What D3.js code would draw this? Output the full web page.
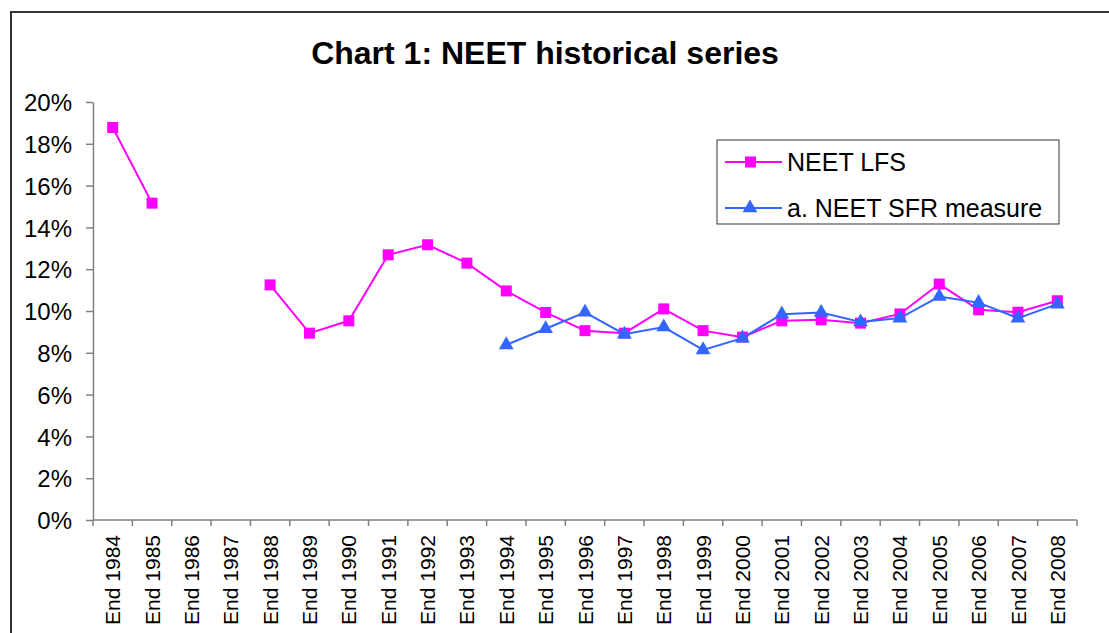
<!DOCTYPE html>
<html>
<head>
<meta charset="utf-8">
<script src="https://cdn.jsdelivr.net/npm/d3@7"></script>
<style>
  body { margin: 0; background: #fff; }
  svg { display: block; font-family: "Liberation Sans", Arial, sans-serif; }
</style>
</head>
<body>
<div id="chart"></div>
<script>
// data
const years = ['1984', '1985', '1986', '1987', '1988', '1989', '1990', '1991', '1992', '1993',
  '1994', '1995', '1996', '1997', '1998', '1999', '2000', '2001', '2002', '2003',
  '2004', '2005', '2006', '2007', '2008']
const categories = years.map(y => `End ${y}`)
const neetLfs = [0.1878, 0.1516, null, null, 0.1125, 0.0894, 0.0953, 0.1269, 0.1317, 0.1229,
  0.1096, 0.0993, 0.0906, 0.0894, 0.1010, 0.0906, 0.0875, 0.0953, 0.0958, 0.0942,
  0.0986, 0.1129, 0.1006, 0.0994, 0.1049]
const neetSfr = [null, null, null, null, null, null, null, null, null, null,
  0.0838, 0.0915, 0.0994, 0.0889, 0.0923, 0.0814, 0.0870, 0.0985, 0.0993, 0.0947,
  0.0966, 0.1069, 0.1040, 0.0966, 0.1033]
const yTicks = [0, 0.02, 0.04, 0.06, 0.08, 0.1, 0.12, 0.14, 0.16, 0.18, 0.2]
const seriesNames = ['NEET LFS', 'a. NEET SFR measure']

const width = 1109
const height = 633
const plotLeft = 93
const plotRight = 1077
const plotTop = 102
const plotBottom = 520

// colors
const pink = '#FF00FF'
const blue = '#3366FF'
const axisColor = '#808080'

const $svg = d3.select('#chart').append('svg')
  .attr('width', width)
  .attr('height', height)

// outer frame runs off the page on right and bottom
$svg.append('rect')
  .attr('x', 11)
  .attr('y', 12)
  .attr('width', width + 20)
  .attr('height', height + 20)
  .attr('fill', 'none')
  .attr('stroke', '#333')
  .attr('stroke-width', 2)

$svg.append('text')
  .attr('x', 545)
  .attr('y', 64)
  .attr('text-anchor', 'middle')
  .style('font-size', '32px')
  .style('font-weight', 'bold')
  .text('Chart 1: NEET historical series')

// scales
const scaleX = d3.scaleBand()
  .domain(categories)
  .range([plotLeft, plotRight])
const scaleY = d3.scaleLinear()
  .domain([0, 0.2])
  .range([plotBottom, plotTop])

// y axis
const $yAxis = $svg.append('g')
  .attr('transform', `translate(${plotLeft}, 0)`)
  .call(d3.axisLeft(scaleY)
    .tickValues(yTicks)
    .tickSize(7)
    .tickSizeOuter(0)
    .tickPadding(14)
    .tickFormat(d3.format('.0%')))
$yAxis.select('.domain').attr('stroke', axisColor).attr('stroke-width', 1.5)
$yAxis.selectAll('.tick line').attr('stroke', axisColor).attr('stroke-width', 1.5)
$yAxis.selectAll('.tick text')
  .attr('fill', '#000')
  .style('font-size', '24px')
  .attr('dy', '0.36em')
  .attr('font-family', '"Liberation Sans", Arial, sans-serif')

// x axis: labels at band centres, ticks at band edges
const $xAxis = $svg.append('g')
  .attr('transform', `translate(0, ${plotBottom})`)
  .call(d3.axisBottom(scaleX).tickSize(0).tickPadding(0))
$xAxis.select('.domain').remove()
$xAxis.append('line')
  .attr('x1', plotLeft)
  .attr('x2', plotRight)
  .attr('stroke', axisColor)
  .attr('stroke-width', 1.5)
$xAxis.selectAll('.edge')
  .data(categories.map(c => scaleX(c)).concat([plotRight]))
  .enter()
  .append('line')
  .attr('class', 'edge')
  .attr('x1', d => d)
  .attr('x2', d => d)
  .attr('y1', 0)
  .attr('y2', 6)
  .attr('stroke', axisColor)
  .attr('stroke-width', 1.5)
$xAxis.selectAll('.tick text')
  .attr('fill', '#000')
  .attr('font-family', '"Liberation Sans", Arial, sans-serif')
  .style('font-size', '21px')
  .attr('text-anchor', 'end')
  .attr('transform', 'rotate(-90)')
  .attr('x', -15)
  .attr('y', 0)
  .attr('dy', '0.36em')

const cx = d => scaleX(d.cat) + scaleX.bandwidth() / 2

function seriesData(values) {
  return values.map((v, i) => ({ cat: categories[i], value: v }))
}

const line = d3.line()
  .defined(d => d.value != null)
  .x(cx)
  .y(d => scaleY(d.value))

const triangle = d3.symbol().type(d3.symbolTriangle).size(95)

const lfs = seriesData(neetLfs)
const sfr = seriesData(neetSfr)

// LFS line + squares
$svg.append('path')
  .datum(lfs)
  .attr('d', line)
  .attr('fill', 'none')
  .attr('stroke', pink)
  .attr('stroke-width', 2)
$svg.selectAll('.sq')
  .data(lfs.filter(d => d.value != null))
  .enter()
  .append('rect')
  .attr('class', 'sq')
  .attr('x', d => cx(d) - 5.5)
  .attr('y', d => scaleY(d.value) - 5.5)
  .attr('width', 11)
  .attr('height', 11)
  .attr('fill', pink)

// SFR line + triangles
$svg.append('path')
  .datum(sfr)
  .attr('d', line)
  .attr('fill', 'none')
  .attr('stroke', blue)
  .attr('stroke-width', 2)
$svg.selectAll('.tri')
  .data(sfr.filter(d => d.value != null))
  .enter()
  .append('path')
  .attr('class', 'tri')
  .attr('d', triangle)
  .attr('transform', d => `translate(${cx(d)}, ${scaleY(d.value)})`)
  .attr('fill', blue)

// legend
const $legend = $svg.append('g')
  .attr('transform', 'translate(717, 140)')
$legend.append('rect')
  .attr('width', 342)
  .attr('height', 84)
  .attr('fill', '#fff')
  .attr('stroke', '#333')
  .attr('stroke-width', 1)

const legendRows = $legend.selectAll('.row')
  .data(seriesNames)
  .enter()
  .append('g')
  .attr('class', 'row')
  .attr('transform', (d, i) => `translate(0, ${i === 0 ? 22 : 68})`)

legendRows.append('line')
  .attr('x1', 8)
  .attr('x2', 65)
  .attr('stroke', (d, i) => i === 0 ? pink : blue)
  .attr('stroke-width', 2)
legendRows.filter((d, i) => i === 0)
  .append('rect')
  .attr('x', 28)
  .attr('y', -5.5)
  .attr('width', 11)
  .attr('height', 11)
  .attr('fill', pink)
legendRows.filter((d, i) => i === 1)
  .append('path')
  .attr('d', triangle)
  .attr('transform', 'translate(33, 0)')
  .attr('fill', blue)
legendRows.append('text')
  .attr('x', 70)
  .attr('dy', '0.36em')
  .style('font-size', '25px')
  .text(d => d)
</script>
</body>
</html>
